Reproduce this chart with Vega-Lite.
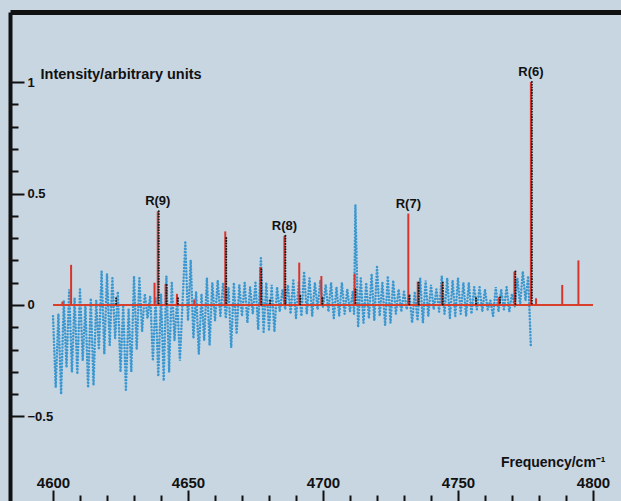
{
  "$schema": "https://vega.github.io/schema/vega-lite/v6.json",
  "width": 611,
  "height": 489,
  "autosize": {"type": "none"},
  "padding": {"left": 10, "top": 12, "right": 0, "bottom": 0},
  "background": "#c8d6e2",
  "config": {"view": {"stroke": null}, "font": "Liberation Sans"},
  "datasets": {
    "blue": [
      {"f":4600,"v":-0.05},{"f":4601,"v":-0.37},{"f":4602,"v":-0.04},{"f":4603,"v":-0.40},{"f":4604,"v":0.02},
      {"f":4605,"v":-0.28},{"f":4606,"v":0.07},{"f":4607,"v":-0.30},{"f":4608,"v":0.03},{"f":4609,"v":-0.31},
      {"f":4610,"v":0.07},{"f":4611,"v":-0.25},{"f":4612,"v":0.0},{"f":4613,"v":-0.37},{"f":4614,"v":0.03},
      {"f":4615,"v":-0.36},{"f":4616,"v":0.02},{"f":4617,"v":-0.20},{"f":4618,"v":0.15},{"f":4619,"v":-0.22},
      {"f":4620,"v":0.14},{"f":4621,"v":-0.18},{"f":4622,"v":0.12},{"f":4623,"v":-0.15},{"f":4624,"v":0.06},
      {"f":4625,"v":-0.30},{"f":4626,"v":0.0},{"f":4627,"v":-0.38},{"f":4628,"v":-0.02},{"f":4629,"v":-0.30},
      {"f":4630,"v":0.13},{"f":4631,"v":-0.20},{"f":4632,"v":0.12},{"f":4633,"v":-0.12},{"f":4634,"v":0.05},
      {"f":4635,"v":-0.06},{"f":4636,"v":0.04},{"f":4637,"v":-0.25},{"f":4638,"v":0.03},{"f":4639,"v":-0.32},
      {"f":4640,"v":0.05},{"f":4641,"v":-0.34},{"f":4642,"v":0.13},{"f":4643,"v":-0.30},{"f":4644,"v":0.10},
      {"f":4645,"v":-0.16},{"f":4646,"v":0.03},{"f":4647,"v":-0.25},{"f":4648,"v":0.02},{"f":4649,"v":0.28},
      {"f":4650,"v":-0.07},{"f":4651,"v":0.20},{"f":4652,"v":-0.15},{"f":4653,"v":0.06},{"f":4654,"v":-0.22},
      {"f":4655,"v":0.05},{"f":4656,"v":-0.16},{"f":4657,"v":0.12},{"f":4658,"v":-0.18},{"f":4659,"v":0.10},
      {"f":4660,"v":-0.07},{"f":4661,"v":0.11},{"f":4662,"v":-0.05},{"f":4663,"v":0.10},{"f":4664,"v":-0.06},
      {"f":4665,"v":0.08},{"f":4666,"v":-0.19},{"f":4667,"v":0.10},{"f":4668,"v":-0.13},{"f":4669,"v":0.09},
      {"f":4670,"v":-0.05},{"f":4671,"v":0.10},{"f":4672,"v":-0.08},{"f":4673,"v":0.08},{"f":4674,"v":-0.04},
      {"f":4675,"v":0.10},{"f":4676,"v":-0.11},{"f":4677,"v":0.21},{"f":4678,"v":-0.12},{"f":4679,"v":0.10},
      {"f":4680,"v":-0.11},{"f":4681,"v":0.09},{"f":4682,"v":-0.12},{"f":4683,"v":0.08},{"f":4684,"v":-0.03},
      {"f":4685,"v":0.07},{"f":4686,"v":-0.02},{"f":4687,"v":0.09},{"f":4688,"v":-0.04},{"f":4689,"v":0.11},
      {"f":4690,"v":-0.06},{"f":4691,"v":0.10},{"f":4692,"v":-0.05},{"f":4693,"v":0.15},{"f":4694,"v":-0.04},
      {"f":4695,"v":0.12},{"f":4696,"v":-0.05},{"f":4697,"v":0.10},{"f":4698,"v":-0.02},{"f":4699,"v":0.11},
      {"f":4700,"v":-0.01},{"f":4701,"v":0.09},{"f":4702,"v":-0.03},{"f":4703,"v":0.10},{"f":4704,"v":-0.06},
      {"f":4705,"v":0.08},{"f":4706,"v":-0.05},{"f":4707,"v":0.10},{"f":4708,"v":-0.04},{"f":4709,"v":0.07},
      {"f":4710,"v":-0.03},{"f":4711,"v":0.06},{"f":4711.5,"v":-0.04},{"f":4712,"v":0.45},{"f":4713,"v":-0.10},
      {"f":4714,"v":0.12},{"f":4715,"v":-0.08},{"f":4716,"v":0.10},{"f":4717,"v":-0.06},{"f":4718,"v":0.14},
      {"f":4719,"v":-0.07},{"f":4720,"v":0.17},{"f":4721,"v":-0.05},{"f":4722,"v":0.10},{"f":4723,"v":-0.09},
      {"f":4724,"v":0.13},{"f":4725,"v":-0.08},{"f":4726,"v":0.11},{"f":4727,"v":-0.04},{"f":4728,"v":0.07},
      {"f":4729,"v":-0.03},{"f":4730,"v":0.06},{"f":4731,"v":-0.02},{"f":4732,"v":0.05},{"f":4733,"v":-0.08},
      {"f":4734,"v":0.06},{"f":4735,"v":-0.07},{"f":4736,"v":0.12},{"f":4737,"v":-0.08},{"f":4738,"v":0.11},
      {"f":4739,"v":-0.05},{"f":4740,"v":0.09},{"f":4741,"v":-0.02},{"f":4742,"v":0.07},{"f":4743,"v":-0.03},
      {"f":4744,"v":0.13},{"f":4745,"v":-0.04},{"f":4746,"v":0.12},{"f":4747,"v":-0.06},{"f":4748,"v":0.11},
      {"f":4749,"v":-0.05},{"f":4750,"v":0.12},{"f":4751,"v":-0.04},{"f":4752,"v":0.10},{"f":4753,"v":-0.05},
      {"f":4754,"v":0.10},{"f":4755,"v":-0.04},{"f":4756,"v":0.08},{"f":4757,"v":-0.02},{"f":4758,"v":0.08},
      {"f":4759,"v":-0.03},{"f":4760,"v":0.07},{"f":4761,"v":-0.02},{"f":4762,"v":0.02},{"f":4763,"v":-0.05},
      {"f":4764,"v":0.08},{"f":4765,"v":-0.03},{"f":4766,"v":0.07},{"f":4767,"v":-0.02},{"f":4768,"v":0.08},
      {"f":4769,"v":-0.03},{"f":4770,"v":0.05},{"f":4771,"v":-0.01},{"f":4772,"v":0.12},{"f":4773,"v":0.0},
      {"f":4774,"v":0.15},{"f":4775,"v":0.02},{"f":4776,"v":0.13},{"f":4777,"v":-0.19}
    ],
    "sticks": [
      {"f":4603.5,"v":0.015},{"f":4606.7,"v":0.18},{"f":4637.6,"v":0.10},{"f":4638.8,"v":0.42},
      {"f":4641.7,"v":0.094},{"f":4645.9,"v":0.05},{"f":4652.3,"v":0.025},{"f":4663.8,"v":0.33},
      {"f":4676.8,"v":0.17},{"f":4685.7,"v":0.31},{"f":4691.2,"v":0.19},{"f":4699.4,"v":0.13},
      {"f":4711.7,"v":0.14},{"f":4731.6,"v":0.41},{"f":4735.1,"v":0.105},{"f":4744.0,"v":0.097},
      {"f":4765.2,"v":0.035},{"f":4770.9,"v":0.15},{"f":4777.0,"v":1.0},{"f":4778.9,"v":0.03},
      {"f":4788.6,"v":0.09},{"f":4794.6,"v":0.20}
    ],
    "black": [
      {"f":4623,"v":0.03},{"f":4638.8,"v":0.42},{"f":4641.7,"v":0.09},{"f":4645.9,"v":0.03},
      {"f":4663.8,"v":0.30},{"f":4676.8,"v":0.16},{"f":4680,"v":0.02},{"f":4685.7,"v":0.31},
      {"f":4691.2,"v":0.04},{"f":4699.4,"v":0.03},{"f":4711.7,"v":0.07},{"f":4731.6,"v":0.04},
      {"f":4735.1,"v":0.10},{"f":4744.0,"v":0.10},{"f":4756.3,"v":0.03},{"f":4765.2,"v":0.035},
      {"f":4770.9,"v":0.15},{"f":4777.0,"v":1.0}
    ],
    "labels": [
      {"f":4638.8,"v":0.42,"label":"R(9)"},
      {"f":4685.7,"v":0.31,"label":"R(8)"},
      {"f":4731.6,"v":0.41,"label":"R(7)"},
      {"f":4777.0,"v":1.0,"label":"R(6)"}
    ],
    "base": [{"f":4600,"f2":4800,"v":0}]
  },
  "resolve": {"axis": {"x": "independent"}},
  "layer": [
    {
      "layer": [
        {
          "data": {"name": "blue"},
          "mark": {"type": "line", "color": "#3b97cf", "strokeWidth": 2.5, "strokeDash": [0.1, 3.1], "strokeCap": "round"},
          "encoding": {
            "x": {
              "field": "f", "type": "quantitative",
              "scale": {"domain": [4584.07, 4810.37], "nice": false, "zero": false},
              "axis": {
                "values": [4600,4610,4620,4630,4640,4650,4660,4670,4680,4690,4700,4710,4720,4730,4740,4750,4760,4770,4780,4790,4800],
                "tickCount": 100,
                "orient": "bottom",
                "domain": false,
                "grid": false,
                "format": "d",
                "tickColor": "#111111",
                "tickWidth": 2,
                "tickSize": {"condition": {"test": "datum.value % 50 === 0", "value": -11}, "value": -6},
                "labelExpr": "datum.value % 50 === 0 ? datum.label : ''",
                "labelBaseline": "alphabetic",
                "labelPadding": -3,
                "labelFont": "Liberation Sans",
                "labelFontSize": 15,
                "labelFontWeight": "bold",
                "labelColor": "#111111",
                "labelFlush": false,
                "labelOverlap": false,
                "title": "Frequency/cm⁻¹",
                "titleX": 595,
                "titleY": -35,
                "titleAlign": "right",
                "titleBaseline": "alphabetic",
                "titleFont": "Liberation Sans",
                "titleFontSize": 14,
                "titleFontWeight": "bold",
                "titleColor": "#111111"
              }
            },
            "y": {
              "field": "v", "type": "quantitative",
              "scale": {"domain": [-0.879, 1.314], "nice": false, "zero": false},
              "axis": {
                "values": [-0.5,-0.4,-0.3,-0.2,-0.1,0,0.1,0.2,0.3,0.4,0.5,0.6,0.7,0.8,0.9,1],
                "tickCount": 100,
                "grid": false,
                "format": "~g",
                "domainColor": "#111111",
                "domainWidth": 4,
                "tickColor": "#111111",
                "tickWidth": 2,
                "tickSize": {"condition": {"test": "abs(datum.value*2 - round(datum.value*2)) < 0.001", "value": -14}, "value": -8},
                "labelExpr": "abs(datum.value*2 - round(datum.value*2)) < 0.001 ? datum.label : ''",
                "labelAlign": "left",
                "labelBaseline": "middle",
                "labelPadding": -3,
                "labelFont": "Liberation Sans",
                "labelFontSize": 13,
                "labelFontWeight": "bold",
                "labelColor": "#111111",
                "labelFlush": false,
                "labelOverlap": false,
                "title": "Intensity/arbitrary units",
                "titleAngle": 0,
                "titleX": 30,
                "titleY": 62,
                "titleAlign": "left",
                "titleBaseline": "middle",
                "titleFont": "Liberation Sans",
                "titleFontSize": 14.5,
                "titleFontWeight": "bold",
                "titleColor": "#111111"
              }
            }
          }
        },
        {
          "data": {"name": "base"},
          "mark": {"type": "rule", "color": "#d8402c", "strokeWidth": 2},
          "encoding": {
            "x": {"field": "f", "type": "quantitative"},
            "x2": {"field": "f2"},
            "y": {"field": "v", "type": "quantitative"}
          }
        },
        {
          "data": {"name": "sticks"},
          "mark": {"type": "rule", "color": "#d9342b", "strokeWidth": 2},
          "encoding": {
            "x": {"field": "f", "type": "quantitative"},
            "y": {"field": "v", "type": "quantitative"},
            "y2": {"datum": 0}
          }
        },
        {
          "data": {"name": "black"},
          "mark": {"type": "rule", "color": "#1a1a1a", "strokeWidth": 2, "strokeDash": [0.1, 2.6], "strokeCap": "round", "xOffset": 1},
          "encoding": {
            "x": {"field": "f", "type": "quantitative"},
            "y": {"field": "v", "type": "quantitative"},
            "y2": {"datum": 0}
          }
        },
        {
          "data": {"name": "labels"},
          "mark": {"type": "text", "font": "Liberation Sans", "fontSize": 13, "fontWeight": "bold", "color": "#111111", "baseline": "bottom", "align": "center", "dy": -3},
          "encoding": {
            "x": {"field": "f", "type": "quantitative"},
            "y": {"field": "v", "type": "quantitative"},
            "text": {"field": "label"}
          }
        }
      ]
    },
    {
      "data": {"name": "base"},
      "mark": {"type": "rule", "strokeOpacity": 0},
      "encoding": {
        "x": {
          "field": "f", "type": "quantitative",
          "axis": {
            "orient": "top",
            "domain": true,
            "domainColor": "#111111",
            "domainWidth": 5,
            "ticks": false,
            "labels": false,
            "grid": false,
            "title": null
          }
        },
        "x2": {"field": "f2"},
        "y": {"field": "v", "type": "quantitative"}
      }
    }
  ]
}
